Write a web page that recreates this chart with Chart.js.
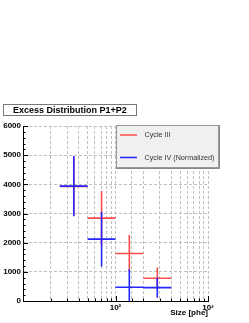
<!DOCTYPE html>
<html>
<head>
<meta charset="utf-8">
<script src="https://cdn.jsdelivr.net/npm/chart.js@4/dist/chart.umd.min.js"></script>
<style>
  body { margin: 0; background: #fff; }
  canvas { display: block; }
</style>
</head>
<body>
<canvas id="excessChart" width="249" height="323"></canvas>
<script>
// size bins (phe), log axis
const binLow = [25, 50, 100, 200];
const binHigh = [50, 100, 200, 400];
const binCenter = [35.4, 70.7, 141, 283];

const cycle3Values = [3930, 2840, 1630, 780];
const cycle3Errors = [1010, 930, 630, 370];
const cycle4Values = [3940, 2120, 470, 460];
const cycle4Errors = [1035, 940, 620, 345];

const xTickValues = [100, 1000];
const xTickLabels = ['10²', '10³'];

// build crosses: horizontal bin width + vertical error bar, separated by gaps
function crosses(values, errors) {
    const pts = [];
    values.forEach((v, i) => {
        pts.push({ x: binLow[i], y: v }, { x: binHigh[i], y: v }, { x: binCenter[i], y: null });
        pts.push({ x: binCenter[i], y: v - errors[i] }, { x: binCenter[i], y: v + errors[i] }, { x: binCenter[i], y: null });
    });
    return pts;
}

const boxes = {
    id: 'boxes',
    afterDatasetsDraw(chart) {
        // small inside ticks like the ROOT frame
        const ctx = chart.ctx, xs = chart.scales.x, ys = chart.scales.y;
        ctx.save();
        ctx.strokeStyle = '#000';
        ctx.lineWidth = 1;
        ctx.beginPath();
        for (let v = 0; v <= 6000; v += 200) {
            const y = Math.round(ys.getPixelForValue(v)) + 0.5;
            ctx.moveTo(xs.left, y);
            ctx.lineTo(xs.left + (v % 1000 === 0 ? 5 : 2.5), y);
        }
        xs.ticks.forEach(t => {
            const x = Math.round(xs.getPixelForValue(t.value)) + 0.5;
            const major = xTickValues.includes(t.value);
            ctx.moveTo(x, ys.bottom);
            ctx.lineTo(x, ys.bottom - (major ? 5 : 2.5));
        });
        ctx.stroke();
        ctx.restore();
    },
    afterDraw(chart) {
        const ctx = chart.ctx;
        ctx.save();
        // title box
        ctx.fillStyle = '#fff';
        ctx.fillRect(3, 104, 134, 11);
        ctx.strokeStyle = '#777';
        ctx.lineWidth = 1;
        ctx.strokeRect(3.5, 104.5, 133, 11);
        ctx.fillStyle = '#000';
        ctx.font = 'bold 9px "Liberation Sans", Arial, sans-serif';
        ctx.textBaseline = 'middle';
        ctx.fillText('Excess Distribution P1+P2', 13, 110.5);

        // legend
        ctx.fillStyle = '#f0f0f0';
        ctx.fillRect(116, 125, 103, 43);
        ctx.strokeStyle = '#999';
        ctx.strokeRect(116.5, 125.5, 102, 42);
        ctx.strokeStyle = '#888';
        ctx.beginPath();
        ctx.moveTo(219.5, 125); ctx.lineTo(219.5, 168.5); ctx.lineTo(116, 168.5);
        ctx.stroke();
        const ds = [chart.data.datasets[1], chart.data.datasets[0]];
        const ys = [135, 157.5];
        ctx.font = '7.2px "Liberation Sans", Arial, sans-serif';
        ds.forEach((d, i) => {
            ctx.strokeStyle = d.borderColor;
            ctx.lineWidth = 1.5;
            ctx.beginPath();
            ctx.moveTo(120, ys[i]); ctx.lineTo(137, ys[i]);
            ctx.stroke();
            ctx.fillStyle = '#333';
            ctx.fillText(d.label, 144.5, ys[i] + 0.5);
        });
        ctx.restore();
    }
};

new Chart(document.getElementById('excessChart'), {
    type: 'scatter',
    data: {
        datasets: [{
            label: 'Cycle IV (Normalized)',
            data: crosses(cycle4Values, cycle4Errors),
            borderColor: '#2626ff',
            borderWidth: 1.6,
            showLine: true,
            spanGaps: false,
            pointRadius: 0,
            order: 0
        }, {
            label: 'Cycle III',
            data: crosses(cycle3Values, cycle3Errors),
            borderColor: '#ff4c4c',
            borderWidth: 1.6,
            showLine: true,
            spanGaps: false,
            pointRadius: 0,
            order: 1
        }]
    },
    options: {
        responsive: false,
        animation: false,
        layout: { padding: { top: 126, right: 41, left: 0, bottom: 0 } },
        plugins: { legend: { display: false }, tooltip: { enabled: false } },
        scales: {
            x: {
                type: 'logarithmic',
                min: 10,
                max: 1000,
                afterFit: s => { s.height = 22; },
                border: { color: '#000', dash: [3, 2] },
                grid: { color: '#c0c0c0', drawTicks: false },
                ticks: {
                    autoSkip: false,
                    maxRotation: 0,
                    padding: 2,
                    color: '#000',
                    font: { family: '"Liberation Sans", Arial', size: 8, weight: 'bold' },
                    callback: v => {
                        const i = xTickValues.indexOf(v);
                        return i >= 0 ? xTickLabels[i] : '';
                    }
                },
                title: {
                    display: true,
                    text: 'Size [phe]',
                    align: 'end',
                    color: '#000',
                    padding: { top: 0, bottom: 5 },
                    font: { family: '"Liberation Sans", Arial', size: 8, weight: 'bold' }
                }
            },
            y: {
                min: 0,
                max: 6000,
                afterFit: s => { s.width = 23; },
                border: { color: '#000', dash: [3, 2] },
                grid: { color: '#c0c0c0', drawTicks: false },
                ticks: {
                    stepSize: 1000,
                    padding: 2,
                    color: '#000',
                    font: { family: '"Liberation Sans", Arial', size: 8, weight: 'bold' },
                    callback: v => String(v)
                }
            }
        }
    },
    plugins: [boxes]
});
</script>
</body>
</html>
